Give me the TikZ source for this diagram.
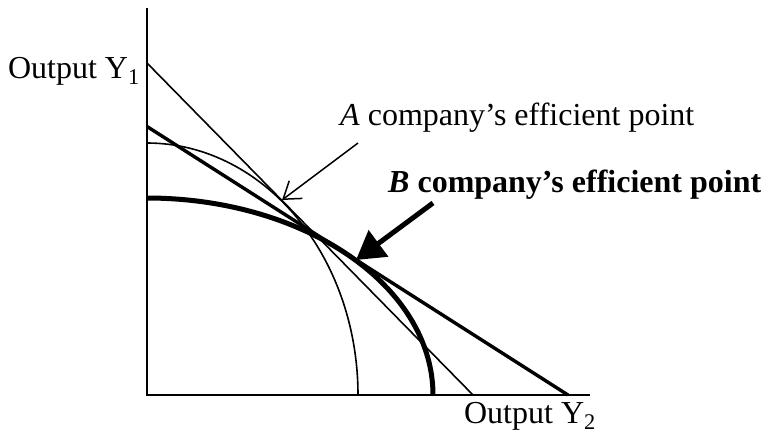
\documentclass[tikz,border=0pt]{standalone}
\usepackage{fontspec}
\setmainfont{Liberation Serif}
\usetikzlibrary{arrows.meta}
\begin{document}
\begin{tikzpicture}[x=1pt,y=-1pt,
  lbl/.style={inner sep=0pt,font=\fontsize{32}{38}\selectfont},
  axis/.style={line width=2pt},
  thinln/.style={line width=1.6pt},
  thickln/.style={line width=3.4pt},
  thickarc/.style={line width=5pt},
  aarrow/.style={line width=1.5pt,-{Straight Barb[length=16pt,width=22pt]}},
  barrow/.style={line width=5pt,-{Triangle[length=28pt,width=32pt]}}]
\useasboundingbox (0,0) rectangle (765,434);
% axes
\coordinate (top) at (147,8);
\coordinate (O) at (147,395);
\coordinate (right) at (590,395);
\draw[axis] (top) -- (O) -- (right);
% A: thin frontier and its tangent line
\coordinate (A1) at (147,63);
\coordinate (A2) at (473,395);
\draw[thinln] (A1) -- (A2);
\draw[thinln] plot[domain=0:90,samples=120] ({147+211*cos(\x)},{395-252*sin(\x)});
% B: thick frontier and its tangent line
\coordinate (B1) at (147,126.5);
\coordinate (B2) at (568,395);
\draw[thickln] (B1) -- (B2);
\draw[thickarc] plot[domain=0:90,samples=120] ({147+286*cos(\x)},{395-197*sin(\x)});
% labels
\node[lbl,anchor=base east] (y1) at (140,78) {Output Y\textsubscript{1}};
\node[lbl,anchor=base east] (y2) at (596,423) {Output Y\textsubscript{2}};
\node[lbl,anchor=base west] (alab) at (340,125) {\textit{A} company’s efficient point};
\node[lbl,anchor=base west] (blab) at (388,192) {\bfseries\textit{B} company’s efficient point};
% arrows
\coordinate (Atail) at (358,143);
\coordinate (Apt) at (282,200);
\draw[aarrow] (Atail) -- (Apt);
\coordinate (Btail) at (433,203);
\coordinate (Bpt) at (356,260);
\draw[barrow] (Btail) -- (Bpt);
\end{tikzpicture}
\end{document}
